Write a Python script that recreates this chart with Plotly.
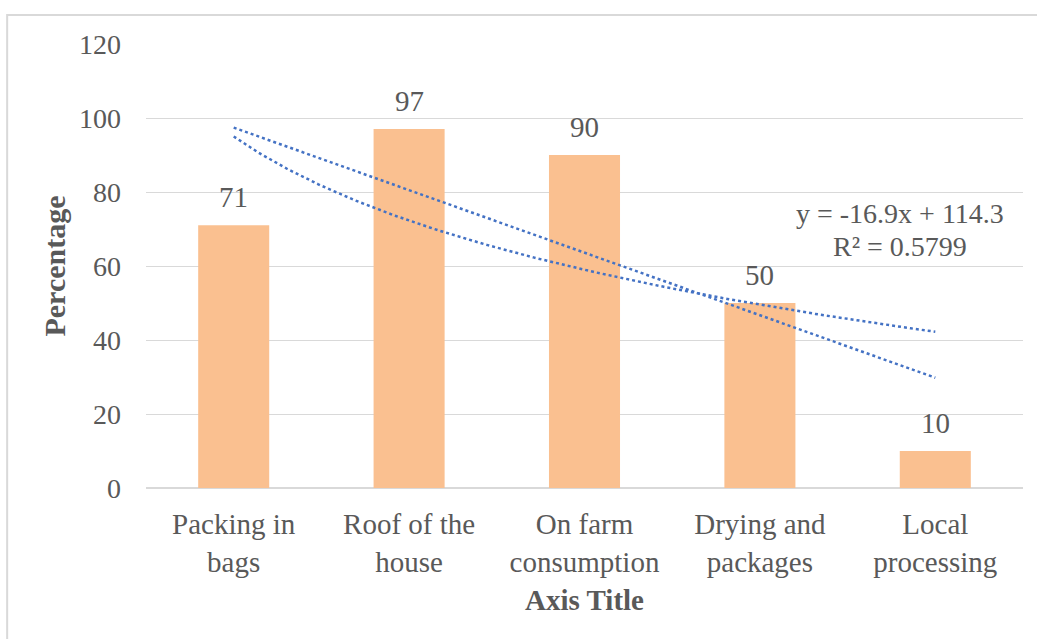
import numpy as np
import plotly.graph_objects as go

categories = ["Packing in<br>bags", "Roof of the<br>house", "On farm<br>consumption",
              "Drying and<br>packages", "Local<br>processing"]
values = [71, 97, 90, 50, 10]
y_ticks = [0, 20, 40, 60, 80, 100, 120]

x_pos = np.arange(1, len(values) + 1)
vals = np.array(values, dtype=float)

# linear trendline (least squares)
lin_a, lin_b = np.polyfit(x_pos, vals, 1)
pred = lin_a * x_pos + lin_b
r2 = 1 - np.sum((vals - pred) ** 2) / np.sum((vals - vals.mean()) ** 2)
# logarithmic trendline
log_a, log_b = np.polyfit(np.log(x_pos), vals, 1)

xs = np.linspace(1, len(values), 200)

FONT = "Liberation Serif, Times New Roman, serif"
GRAY = "#595959"

fig = go.Figure()
fig.add_trace(go.Bar(
    x=x_pos, y=values, width=0.405,
    marker=dict(color="#FAC090", line=dict(width=0)),
    showlegend=False,
))
fig.add_trace(go.Scatter(
    x=xs, y=lin_a * xs + lin_b, mode="lines",
    line=dict(color="#4472C4", width=2.5, dash="dot"), showlegend=False,
))
fig.add_trace(go.Scatter(
    x=xs, y=log_a * np.log(xs) + log_b, mode="lines",
    line=dict(color="#4472C4", width=2.5, dash="dot"), showlegend=False,
))

for xv, v in zip(x_pos, values):
    fig.add_annotation(x=xv, y=v, xref="x", yref="y", showarrow=False,
                       text=str(v), yanchor="middle", yshift=28,
                       font=dict(family=FONT, size=29, color=GRAY))

fig.add_annotation(x=4.8, y=74.3, xref="x", yref="y", showarrow=False,
                   text=f"y = {lin_a:.1f}x + {lin_b:.1f}",
                   font=dict(family=FONT, size=28, color=GRAY))
fig.add_annotation(x=4.8, y=65.4, xref="x", yref="y", showarrow=False,
                   text=f"R² = {r2:.4f}",
                   font=dict(family=FONT, size=28, color=GRAY))

# chart frame
fig.add_shape(type="rect", xref="paper", yref="paper",
              x0=-139/878, x1=1.2, y0=-0.5, y1=(488-15)/444,
              line=dict(color="#D9D9D9", width=2), layer="below")

fig.update_layout(
    width=1037, height=639,
    margin=dict(l=146, r=14, t=44, b=151),
    paper_bgcolor="white", plot_bgcolor="white",
    font=dict(family=FONT, size=28, color=GRAY),
    xaxis=dict(
        range=[0.5, 5.5], tickmode="array", tickvals=list(x_pos), ticktext=categories,
        showgrid=False, zeroline=False, showline=False, ticks="",
        tickfont=dict(family=FONT, size=29, color=GRAY),
        ticklabelstandoff=16,
        title=dict(text="<b>Axis Title</b>", font=dict(family=FONT, size=29, color=GRAY),
                   standoff=12),
    ),
    yaxis=dict(
        range=[0, 120], tickmode="array", tickvals=y_ticks,
        showgrid=True, gridcolor="#D9D9D9", gridwidth=1,
        zeroline=True, zerolinecolor="#D9D9D9", zerolinewidth=1.5,
        showline=False, ticks="",
        tickfont=dict(family=FONT, size=28, color=GRAY),
        ticklabelstandoff=24,
        title=dict(text="<b>Percentage</b>", font=dict(family=FONT, size=30, color=GRAY),
                   standoff=4),
    ),
    bargap=0.6,
)

fig.write_html("out.html")
